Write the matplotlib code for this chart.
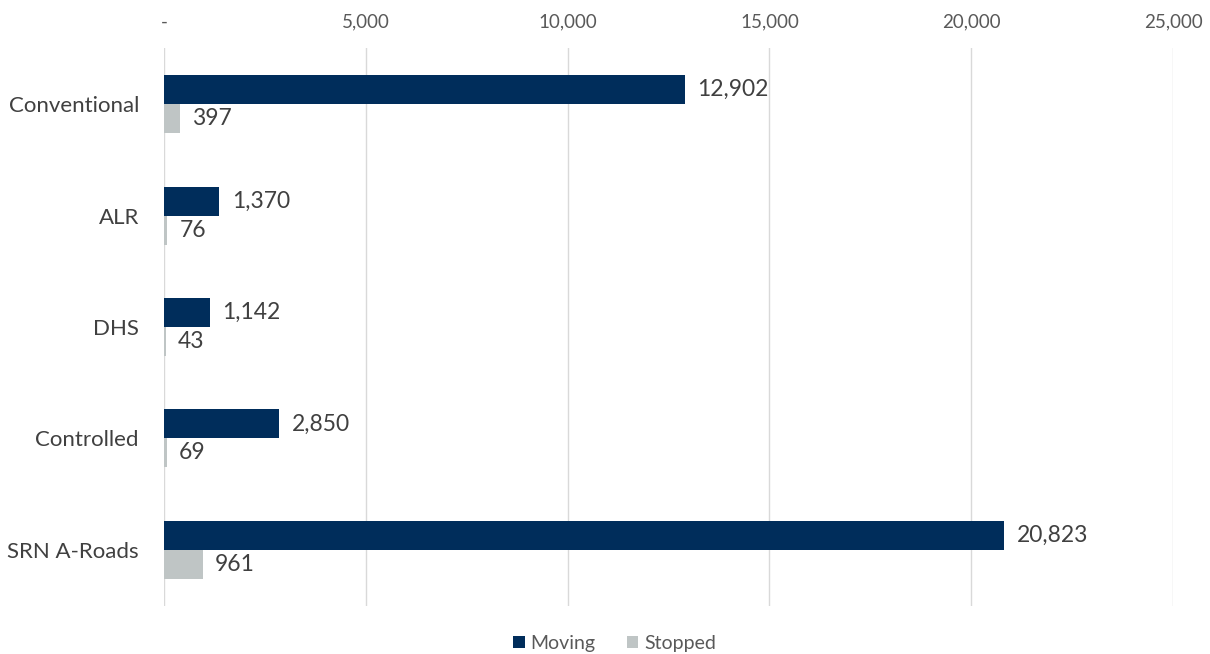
import matplotlib.pyplot as plt
import numpy as np

categories = ["Conventional", "ALR", "DHS", "Controlled", "SRN A-Roads"]
moving = [12902, 1370, 1142, 2850, 20823]
stopped = [397, 76, 43, 69, 961]
tick_vals = [0, 5000, 10000, 15000, 20000, 25000]
tick_labels = ["-", "5,000", "10,000", "15,000", "20,000", "25,000"]

plt.rcParams["font.family"] = ["Lato", "DejaVu Sans"]

fig = plt.figure(figsize=(12.1, 6.54), dpi=100)
ax = fig.add_axes([0.1355, 0.074, 0.834, 0.852])

y = np.arange(len(categories))
h = 0.26
b1 = ax.barh(y - h / 2, moving, height=h, color="#002D5B", label="Moving", zorder=3)
b2 = ax.barh(y + h / 2, stopped, height=h, color="#BFC5C5", label="Stopped", zorder=3)

for bars, vals in ((b1, moving), (b2, stopped)):
    for bar, v in zip(bars, vals):
        ax.annotate(f"{v:,}", (bar.get_width(), bar.get_y() + bar.get_height() / 2),
                    xytext=(9, 0), textcoords="offset points", va="center", ha="left",
                    fontsize=16.5, color="#404040")

ax.set_xlim(0, 25000)
ax.set_ylim(len(categories) - 0.5, -0.5)
ax.set_yticks(y)
ax.set_yticklabels(categories, fontsize=16, color="#404040")
ax.set_xticks(tick_vals)
ax.set_xticklabels(tick_labels, fontsize=13.5, color="#595959")
ax.xaxis.tick_top()
ax.tick_params(axis="both", length=0)
ax.tick_params(axis="x", pad=13)
ax.tick_params(axis="y", pad=18)
ax.grid(axis="x", color="#D9D9D9", linewidth=1, zorder=0)
for s in ax.spines.values():
    s.set_visible(False)

fig.legend(handles=[b1, b2], loc="center", bbox_to_anchor=(0.508, 0.016), ncol=2,
           frameon=False, fontsize=14, labelcolor="#595959", handlelength=0.6,
           handleheight=0.6, handletextpad=0.3, columnspacing=1.6)

fig.savefig("out.png", dpi=100)
